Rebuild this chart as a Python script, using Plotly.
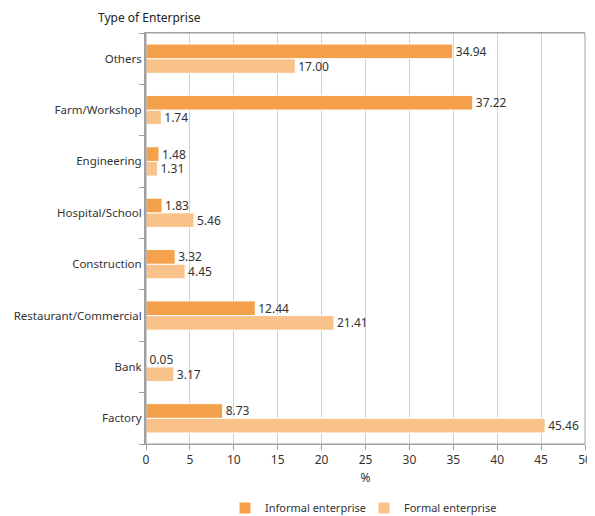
import plotly.graph_objects as go

categories = ["Factory", "Bank", "Restaurant/Commercial", "Construction",
              "Hospital/School", "Engineering", "Farm/Workshop", "Others"]
informal = [8.73, 0.05, 12.44, 3.32, 1.83, 1.48, 37.22, 34.94]
formal = [45.46, 3.17, 21.41, 4.45, 5.46, 1.31, 1.74, 17.00]

FONT = "Noto Sans"
TXT = "#333333"

OFF = 8  # page body margin offset
W, H = 595, 516
L, T = 146 - OFF, 33 - OFF
R = W - (585 - OFF)
B = H - (444 - OFF)
PW, PH = W - L - R, H - T - B

fig = go.Figure()
fig.add_trace(go.Bar(
    y=categories, x=formal, orientation="h", name="Formal enterprise",
    marker=dict(color="#F9C28A", line=dict(color="white", width=1)),
    text=[f"{v:.2f}" for v in formal], textposition="outside", constraintext="none",
    textfont=dict(size=12, color=TXT, family=FONT), cliponaxis=False,
))
fig.add_trace(go.Bar(
    y=categories, x=informal, orientation="h", name="Informal enterprise",
    marker=dict(color="#F5A04A", line=dict(color="white", width=1)),
    text=[f"{v:.2f}" for v in informal], textposition="outside", constraintext="none",
    textfont=dict(size=12, color=TXT, family=FONT), cliponaxis=False,
))

fig.update_layout(
    width=W, height=H,
    margin=dict(l=L, r=R, t=T, b=B, autoexpand=False),
    barmode="group", bargap=0.43, bargroupgap=0,
    plot_bgcolor="white", paper_bgcolor="white",
    font=dict(family=FONT, size=12, color=TXT),
    showlegend=True,
    legend=dict(orientation="h", x=((250 - 25 - OFF) - L) / PW, xanchor="left",
                y=-((508 - OFF) - (T + PH)) / PH, yanchor="middle",
                entrywidth=94, entrywidthmode="pixels", itemwidth=30,
                traceorder="reversed", font=dict(size=11, color=TXT)),
    xaxis=dict(range=[0, 50], dtick=5, showgrid=True, gridcolor="#D0D0D0", gridwidth=1,
               showline=True, linecolor="#A0A0A0", linewidth=1, mirror=True,
               ticks="outside", ticklen=5, tickcolor="#A0A0A0",
               title=dict(text="%", font=dict(size=12, color=TXT), standoff=6),
               zeroline=False, tickfont=dict(size=12, color=TXT)),
    yaxis=dict(showline=True, linecolor="#A0A0A0", linewidth=2, mirror=False,
               ticks="outside", ticklen=5, tickcolor="#A0A0A0", tickson="boundaries",
               tickfont=dict(size=11.5, color=TXT), showgrid=False),
)
fig.add_annotation(text="Type of Enterprise", xref="paper", yref="paper",
                   x=-(L - (96 - OFF)) / PW, y=1 + (T - (18 - OFF)) / PH,
                   xanchor="left", yanchor="middle",
                   showarrow=False, font=dict(size=12, color="#222222", family=FONT))
fig.add_shape(type="rect", xref="paper", yref="paper", x0=0, x1=1, y0=0, y1=1,
              line=dict(color="#A0A0A0", width=1), layer="above")

fig.write_html("out.html")
